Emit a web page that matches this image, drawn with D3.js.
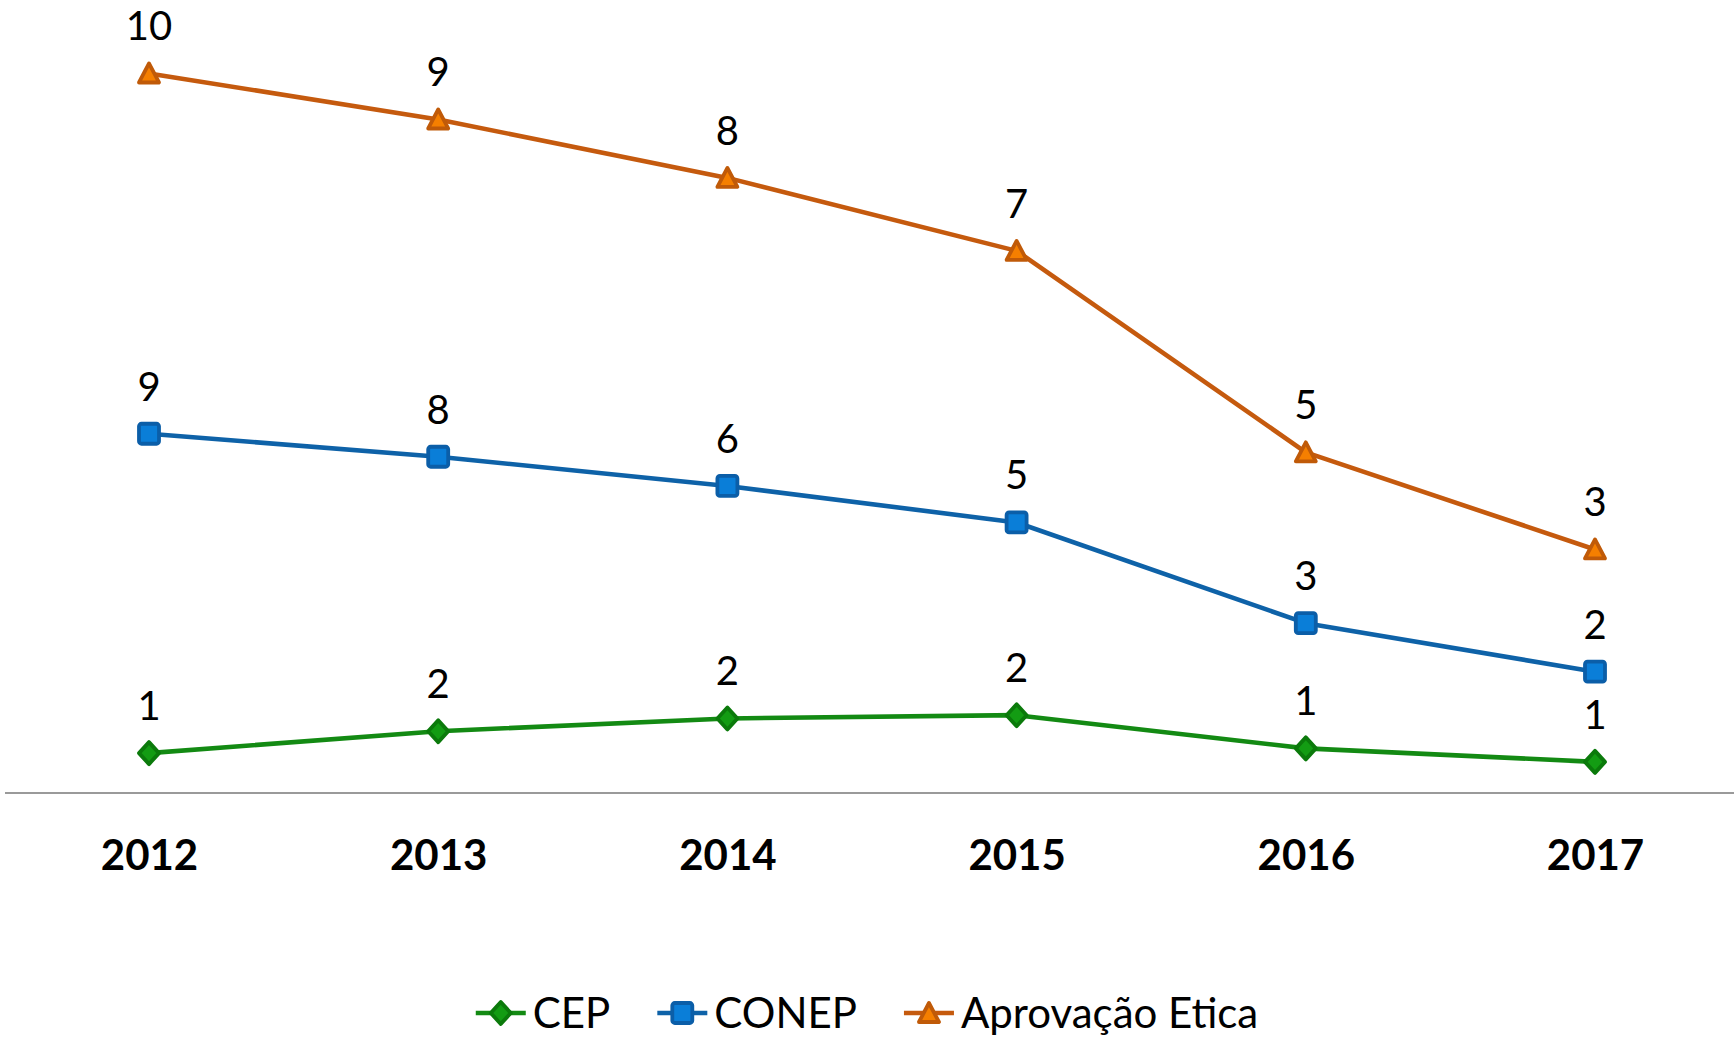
<!DOCTYPE html>
<html>
<head>
<meta charset="utf-8">
<script src="https://cdn.jsdelivr.net/npm/d3@7"></script>
<style>
  html, body { margin: 0; padding: 0; background: #fff; }
  svg { display: block; }
</style>
</head>
<body>
<svg id="chart" width="1734" height="1045"></svg>
<script>
const years = ["2012", "2013", "2014", "2015", "2016", "2017"];
const cep = [1.12, 1.72, 2.07, 2.16, 1.25, 0.88];
const conep = [8.75, 7.52, 6.37, 5.28, 3.43, 2.47];
const aprovacao = [9.87, 9.24, 8.44, 7.44, 4.68, 3.35];
const seriesNames = ["CEP", "CONEP", "Aprovação Etica"];

const svg = d3.select("#chart");
const W = 1734, H = 1045;
const baseY = 793;

const table = years.map((y, i) => ({ year: y, "CEP": cep[i], "CONEP": conep[i], "Aprovação Etica": aprovacao[i] }));
const stacked = d3.stack().keys(seriesNames)(table);

const x = d3.scalePoint().domain(years).range([149, 1595]);
const y = d3.scaleLinear().domain([0, 20]).range([baseY + 1, baseY + 1 - 730]);

const styles = {
  "CEP": { line: "#138A13", fill: "#139C13", stroke: "#0B7A0B", marker: "diamond" },
  "CONEP": { line: "#0E62A8", fill: "#0A7ED8", stroke: "#0B5EA8", marker: "square" },
  "Aprovação Etica": { line: "#C55A0E", fill: "#F57F00", stroke: "#C05A08", marker: "triangle" }
};

function markerPath(type) {
  if (type === "diamond") return "M0,-11 L10,0 L0,11 L-10,0 Z";
  return "M0,-10 L10,9 L-10,9 Z";
}

function drawMarker(g, type, st) {
  if (type === "square") {
    g.append("rect").attr("x", -10).attr("y", -10).attr("width", 20).attr("height", 20)
      .attr("rx", 2.5).attr("fill", st.fill).attr("stroke", st.stroke).attr("stroke-width", 3.8);
  } else {
    g.append("path").attr("d", markerPath(type)).attr("fill", st.fill)
      .attr("stroke", st.stroke).attr("stroke-width", 3.8).attr("stroke-linejoin", "round");
  }
}

// axis line
svg.append("line").attr("x1", 5).attr("x2", W).attr("y1", baseY).attr("y2", baseY)
  .attr("stroke", "#9a9a9a").attr("stroke-width", 2);

// x axis labels
const xAxis = d3.axisBottom(x).tickSize(0).tickPadding(0);
const xg = svg.append("g").attr("transform", `translate(0,${baseY})`).call(xAxis);
xg.select(".domain").remove();
xg.selectAll("text")
  .attr("y", 77).attr("dy", 0)
  .attr("font-family", "Lato, 'Open Sans', sans-serif")
  .attr("font-weight", "bold").attr("font-size", 42).attr("fill", "#000");

const lineGen = d3.line().x(d => x(d.data.year)).y(d => y(d[1]));

stacked.forEach(layer => {
  const st = styles[layer.key];
  svg.append("path").datum(layer).attr("d", lineGen)
    .attr("fill", "none").attr("stroke", st.line).attr("stroke-width", 4.6).attr("stroke-linejoin", "round");
  layer.forEach(d => {
    const g = svg.append("g").attr("transform", `translate(${x(d.data.year)},${y(d[1])})`);
    drawMarker(g, st.marker, st);
  });
});

// data labels
stacked.forEach(layer => {
  layer.forEach(d => {
    svg.append("text")
      .attr("x", x(d.data.year)).attr("y", y(d[1]) - 33)
      .attr("text-anchor", "middle")
      .attr("font-family", "Lato, 'Open Sans', sans-serif")
      .attr("font-size", 40).attr("fill", "#000")
      .text(d3.format(".0f")(d.data[layer.key]));
  });
});

// legend
const legend = svg.append("g");
let cx = 0;
seriesNames.forEach((name, i) => {
  const st = styles[name];
  const g = legend.append("g");
  g.append("line").attr("x1", 0).attr("x2", 50).attr("y1", 0).attr("y2", 0)
    .attr("stroke", st.line).attr("stroke-width", 4.6);
  const mg = g.append("g").attr("transform", "translate(25,0)");
  drawMarker(mg, st.marker, st);
  const t = g.append("text").attr("x", 57).attr("y", 15)
    .attr("font-family", "Lato, 'Open Sans', sans-serif")
    .attr("font-size", 42).attr("fill", "#000").text(name);
  const w = 57 + t.node().getComputedTextLength();
  g.attr("transform", `translate(${cx},0)`);
  cx += w + 47;
});
const totalW = cx - 47;
legend.attr("transform", `translate(${867 - totalW / 2},1013)`);
</script>
</body>
</html>
